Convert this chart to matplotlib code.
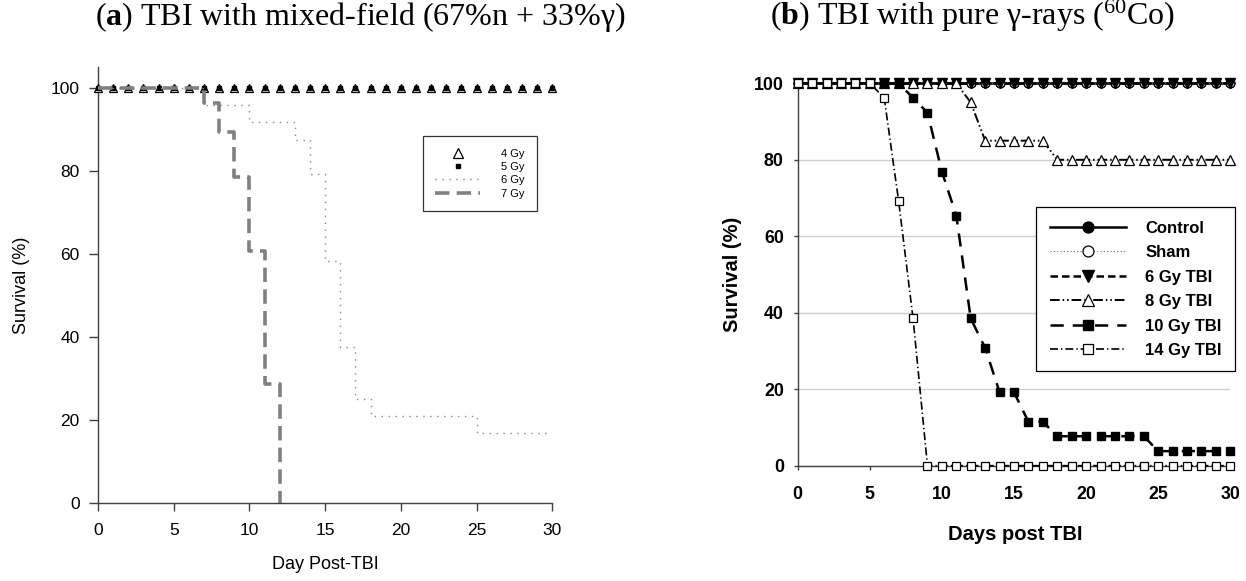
"""
Survival curves after total body irradiation (TBI):
(a) mixed-field (67% n + 33% gamma), (b) pure gamma rays (60Co).
"""

import numpy as np
import matplotlib
matplotlib.use('Agg')
import matplotlib.pyplot as plt
from matplotlib import font_manager

# ---------------------------
# Data panel (a)
# ---------------------------
days_a = [0, 1, 2, 3, 4, 5, 6, 7, 8, 9, 10, 11, 12, 13, 14, 15, 16, 17, 18, 19, 20,
          21, 22, 23, 24, 25, 26, 27, 28, 29, 30]
surv_4gy = [100, 100, 100, 100, 100, 100, 100, 100, 100, 100, 100, 100, 100, 100, 100, 100,
            100, 100, 100, 100, 100, 100, 100, 100, 100, 100, 100, 100, 100, 100, 100]
surv_5gy = [100, 100, 100, 100, 100, 100, 100, 100, 100, 100, 100, 100, 100, 100, 100, 100,
            100, 100, 100, 100, 100, 100, 100, 100, 100, 100, 100, 100, 100, 100, 100]
# Kaplan-Meier steps (day of change, survival after that day)
days_6gy = [0, 7, 10, 13, 14, 15, 16, 17, 18, 25, 30]
surv_6gy = [100, 95.8, 91.7, 87.5, 79.2, 58.3, 37.5, 25.0, 20.8, 16.7, 16.7]
days_7gy = [0, 7, 8, 9, 10, 11, 12]
surv_7gy = [100, 96.4, 89.3, 78.6, 60.7, 28.6, 0]

# ---------------------------
# Data panel (b)
# ---------------------------
days_b = days_a
surv_control = [100, 100, 100, 100, 100, 100, 100, 100, 100, 100, 100, 100, 100, 100, 100, 100,
                100, 100, 100, 100, 100, 100, 100, 100, 100, 100, 100, 100, 100, 100, 100]
surv_sham = [100, 100, 100, 100, 100, 100, 100, 100, 100, 100, 100, 100, 100, 100, 100, 100,
             100, 100, 100, 100, 100, 100, 100, 100, 100, 100, 100, 100, 100, 100, 100]
surv_b6 = [100, 100, 100, 100, 100, 100, 100, 100, 100, 100, 100, 100, 100, 100, 100, 100,
           100, 100, 100, 100, 100, 100, 100, 100, 100, 100, 100, 100, 100, 100, 100]
surv_b8 = [100, 100, 100, 100, 100, 100, 100, 100, 100, 100, 100, 100, 95, 85, 85, 85,
           85, 85, 80, 80, 80, 80, 80, 80, 80, 80, 80, 80, 80, 80, 80]
surv_b10 = [100, 100, 100, 100, 100, 100, 100, 100, 96.2, 92.3, 76.9, 65.4, 38.5, 30.8, 19.2, 19.2,
            11.5, 11.5, 7.7, 7.7, 7.7, 7.7, 7.7, 7.7, 7.7, 3.8, 3.8, 3.8, 3.8, 3.8, 3.8]
surv_b14 = [100, 100, 100, 100, 100, 100, 96.2, 69.2, 38.5, 0, 0, 0, 0, 0, 0, 0,
            0, 0, 0, 0, 0, 0, 0, 0, 0, 0, 0, 0, 0, 0, 0]

# ---------------------------
# Fonts
# ---------------------------
names = {f.name for f in font_manager.fontManager.ttflist}
narrow = 'Liberation Sans Narrow' if 'Liberation Sans Narrow' in names else 'Liberation Sans'
plt.rcParams['font.family'] = 'Liberation Sans'
plt.rcParams['mathtext.fontset'] = 'custom'
plt.rcParams['mathtext.rm'] = 'Liberation Serif'
plt.rcParams['mathtext.bf'] = 'Liberation Serif:bold'
plt.rcParams['mathtext.it'] = 'Liberation Serif:italic'

fig = plt.figure(figsize=(12.46, 5.81), dpi=100)

# ---------------------------
# Panel (a)
# ---------------------------
axc = '#404040'
ax1 = fig.add_axes([0.0787, 0.1348, 0.3646, 0.7499])
ax1.plot(days_a, surv_4gy, linestyle='none', marker='^', ms=6.2, mfc='white', mec='black',
         mew=0.9, clip_on=False, zorder=3, label='4 Gy')
ax1.plot(days_a, surv_5gy, linestyle='none', marker='s', ms=2.5, mfc='black', mec='black',
         clip_on=False, zorder=4, label='5 Gy')
ax1.step(days_6gy, surv_6gy, where='post', color='#888888', lw=1.0,
         linestyle=(0, (1, 4)), zorder=5, label='6 Gy')
ax1.step(days_7gy, surv_7gy, where='post', color='#808080', lw=2.6,
         dashes=(4, 2), zorder=6, label='7 Gy')

ax1.set_xlim(0, 30)
ax1.set_ylim(0, 105)
ax1.set_xticks([0, 5, 10, 15, 20, 25, 30])
ax1.set_yticks([0, 20, 40, 60, 80, 100])
for s in ['top', 'right']:
    ax1.spines[s].set_visible(False)
for s in ['left', 'bottom']:
    ax1.spines[s].set_color(axc)
    ax1.spines[s].set_linewidth(1.0)
ax1.tick_params(axis='both', direction='out', width=1.0, color=axc, labelsize=12.5)
ax1.tick_params(axis='x', length=5.8, pad=9)
ax1.tick_params(axis='y', length=6.6, pad=6.5)
ax1.set_xlabel('Day Post-TBI', fontsize=13)
ax1.set_ylabel('Survival (%)', fontsize=13)
ax1.xaxis.set_label_coords(0.5, -0.122)
ax1.yaxis.set_label_coords(-0.1506, 0.5)

leg1 = ax1.legend(loc='upper right', bbox_to_anchor=(0.967, 0.842), fontsize=8,
                  frameon=True, fancybox=False, edgecolor='black', handlelength=4.0,
                  borderpad=1.15, labelspacing=0.3, handletextpad=1.9, borderaxespad=0)
leg1.get_frame().set_linewidth(0.9)
leg1.legend_handles[0].set_markersize(7.5)

# ---------------------------
# Panel (b)
# ---------------------------
ax2 = fig.add_axes([0.6402, 0.1985, 0.3472, 0.6581])
ax2.plot(days_b, surv_control, '-', color='black', lw=1.8, marker='o', ms=6.3,
         mfc='black', mec='black', clip_on=False, zorder=3, label='Control')
ax2.plot(days_b, surv_sham, color='#666666', lw=0.8, linestyle=(0, (1, 2)), marker='o', ms=6.3,
         mfc='white', mec='black', mew=0.9, clip_on=False, zorder=4, label='Sham')
ax2.plot(days_b, surv_b6, color='black', lw=1.8, dashes=(3, 1.6), marker='v', ms=6.5,
         mfc='black', mec='black', clip_on=False, zorder=5, label='6 Gy TBI')
ax2.plot(days_b, surv_b8, color='black', lw=1.4, dashes=(5, 1.5, 0.8, 1.5, 0.8, 1.5),
         marker='^', ms=6.8, mfc='white', mec='black', mew=0.9, clip_on=False, zorder=6,
         label='8 Gy TBI')
ax2.plot(days_b, surv_b10, color='black', lw=1.8, dashes=(5.3, 3.6), marker='s', ms=6.2,
         mfc='black', mec='black', clip_on=False, zorder=7, label='10 Gy TBI')
ax2.plot(days_b, surv_b14, color='black', lw=1.2, dashes=(4.8, 1.8, 0.8, 1.8), marker='s',
         ms=5.4, mfc='white', mec='black', mew=0.9, clip_on=False, zorder=8, label='14 Gy TBI')

ax2.set_xlim(0, 30)
ax2.set_ylim(0, 100)
ax2.set_xticks([0, 5, 10, 15, 20, 25, 30])
ax2.set_yticks([0, 20, 40, 60, 80, 100])
ax2.yaxis.grid(True, color='#d0d0d0', lw=1.0)
ax2.set_axisbelow(True)
for s in ['top', 'right']:
    ax2.spines[s].set_visible(False)
for s in ['left', 'bottom']:
    ax2.spines[s].set_color(axc)
    ax2.spines[s].set_linewidth(1.0)
ax2.tick_params(axis='both', direction='out', width=1.0, color=axc)
ax2.tick_params(axis='x', length=3.1, pad=11.5)
ax2.tick_params(axis='y', length=2.8, pad=7.2)
for lab in ax2.get_xticklabels() + ax2.get_yticklabels():
    lab.set_fontfamily(narrow)
    lab.set_fontweight('bold')
    lab.set_fontsize(12.8)
ax2.set_xlabel('Days post TBI', fontsize=14.5, fontweight='bold', family=narrow)
ax2.set_ylabel('Survival (%)', fontsize=14.5, fontweight='bold', family=narrow)
ax2.xaxis.set_label_coords(0.502, -0.155)
ax2.yaxis.set_label_coords(-0.128, 0.5)

leg2 = ax2.legend(loc='upper right', bbox_to_anchor=(1.0116, 0.676), numpoints=1,
                  prop={'family': narrow, 'weight': 'bold', 'size': 12},
                  frameon=True, fancybox=False, edgecolor='black', framealpha=1,
                  handlelength=4.6, borderpad=0.8, labelspacing=0.57, handletextpad=1.15,
                  borderaxespad=0, markerscale=1.25)
leg2.get_frame().set_linewidth(0.9)
leg2.set_zorder(20)

# ---------------------------
# Titles
# ---------------------------
fig.text(0.0762, 0.957, r'($\mathbf{a}$) TBI with mixed-field (67%n + 33%γ)',
         family='Liberation Serif', fontsize=23, ha='left', va='baseline')
fig.text(0.618, 0.957, r'($\mathbf{b}$) TBI with pure γ-rays ($^{\mathrm{60}}$Co)',
         family='Liberation Serif', fontsize=23, ha='left', va='baseline')

fig.savefig('out.png', dpi=100)
